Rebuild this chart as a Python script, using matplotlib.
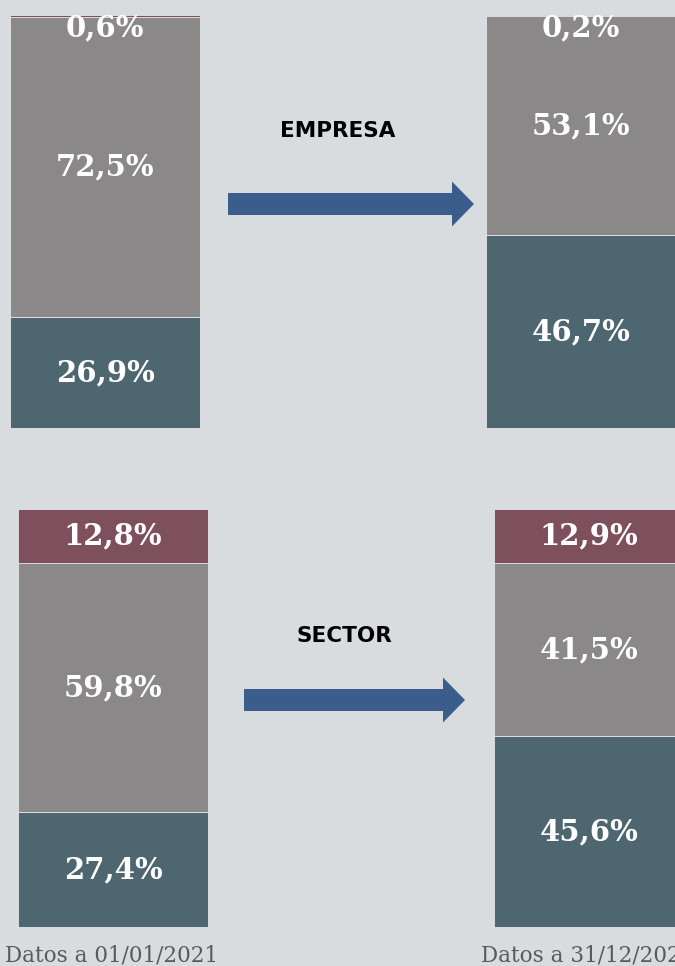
import matplotlib.pyplot as plt
from matplotlib.patches import FancyArrow

# Data (percent) - bottom to top: teal, gray, maroon
segments = ["teal", "gray", "maroon"]
empresa_inicio = [26.9, 72.5, 0.6]
empresa_fin = [46.7, 53.1, 0.2]
sector_inicio = [27.4, 59.8, 12.8]
sector_fin = [45.6, 41.5, 12.9]
titles = ["EMPRESA", "SECTOR"]
footers = ["Datos a 01/01/2021", "Datos a 31/12/2021"]

colors = {"teal": "#4e6670", "gray": "#8a8888", "maroon": "#7e4f5c"}
bg = "#d9dcdf"
arrow_col = "#3a5d8b"

W, H = 675, 966
fig = plt.figure(figsize=(W / 100, H / 100), dpi=100)
fig.patch.set_facecolor(bg)


def fmt(v):
    return f"{v:.1f}%".replace(".", ",")


def stacked(top_px, bot_px, centers, series):
    ax = fig.add_axes([0, 1 - bot_px / H, 1, (bot_px - top_px) / H])
    ax.set_xlim(0, W)
    ax.set_ylim(0, 100)
    ax.axis("off")
    for xc, vals in zip(centers, series):
        bottom = 0
        for name, v in zip(segments, vals):
            ax.bar(xc, v, bottom=bottom, width=190, color=colors[name],
                   edgecolor="#e4e6e8", linewidth=0.6)
            if v < 3:
                ty = 100 - 3.0
            else:
                ty = bottom + v / 2
            ax.text(xc, ty, fmt(v), ha="center", va="center", color="white",
                    fontsize=21, fontweight="bold", family="DejaVu Serif",
                    clip_on=False, zorder=5)
            bottom += v
    return ax


stacked(15, 428, [105, 581], [empresa_inicio, empresa_fin])
stacked(509, 927, [113, 589], [sector_inicio, sector_fin])

# overlay for arrows, titles and footers
ov = fig.add_axes([0, 0, 1, 1])
ov.set_xlim(0, W)
ov.set_ylim(H, 0)
ov.axis("off")
ov.patch.set_alpha(0)

ov.add_patch(FancyArrow(228, 204, 246, 0, width=22, head_width=45,
                        head_length=22, length_includes_head=True,
                        color=arrow_col, lw=0))
ov.add_patch(FancyArrow(244, 700, 221, 0, width=22, head_width=45,
                        head_length=22, length_includes_head=True,
                        color=arrow_col, lw=0))

ov.text(338, 131, titles[0], ha="center", va="center", fontsize=15.5,
        fontweight="heavy", family="DejaVu Sans", color="black")
ov.text(344, 636, titles[1], ha="center", va="center", fontsize=15.5,
        fontweight="heavy", family="DejaVu Sans", color="black")

ov.text(5, 955, footers[0], ha="left", va="center", fontsize=15.5,
        family="DejaVu Serif", color="#5a5a5a")
ov.text(481, 955, footers[1], ha="left", va="center", fontsize=15.5,
        family="DejaVu Serif", color="#5a5a5a")

fig.savefig("out.png", dpi=100, facecolor=bg)
